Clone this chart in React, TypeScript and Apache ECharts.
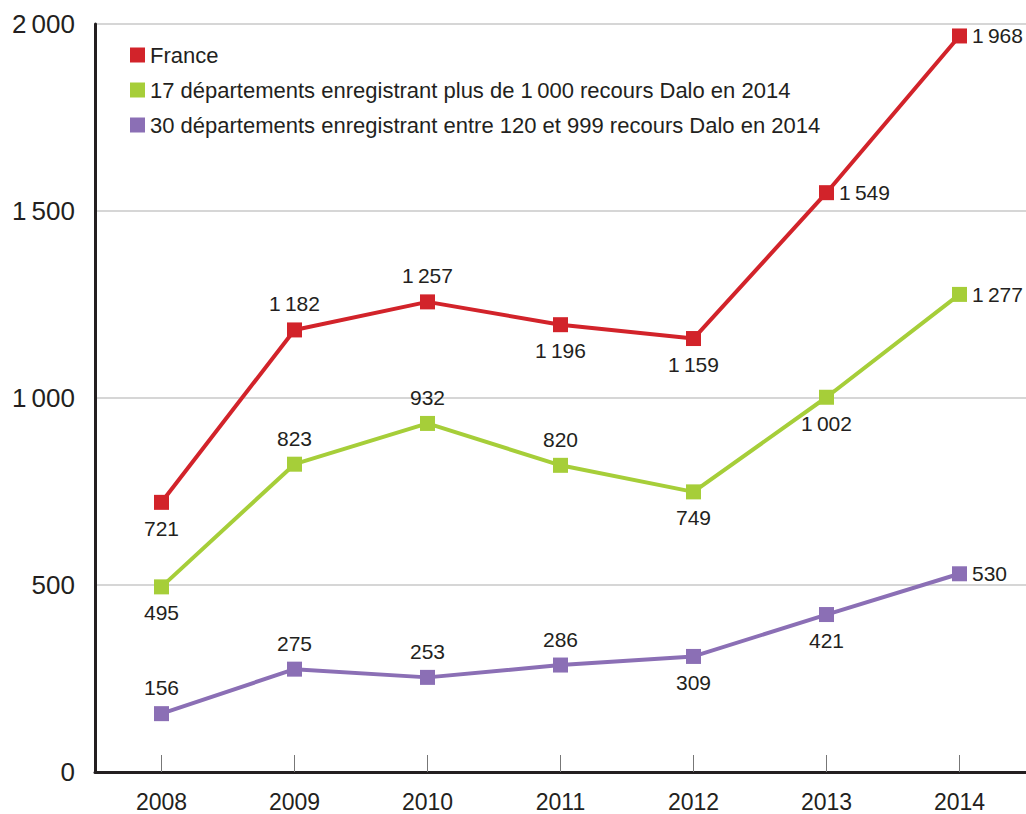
import React, { useEffect, useRef } from "react";
import * as echarts from "echarts";

const years = ["2008", "2009", "2010", "2011", "2012", "2013", "2014"];
const franceValues = [721, 1182, 1257, 1196, 1159, 1549, 1968];
const dept17Values = [495, 823, 932, 820, 749, 1002, 1277];
const dept30Values = [156, 275, 253, 286, 309, 421, 530];
const seriesNames = [
  "France",
  "17 départements enregistrant plus de 1\u2009000 recours Dalo en 2014",
  "30 départements enregistrant entre 120 et 999 recours Dalo en 2014",
];
const franceLabelPos = ["bottom", "top", "top", "bottom", "bottom", "right", "right"];
const dept17LabelPos = ["bottom", "top", "top", "top", "bottom", "bottom", "right"];
const dept30LabelPos = ["top", "top", "top", "top", "bottom", "bottom", "right"];

const colors = ["#d2232a", "#a6ce39", "#8b6fb5"];
const textColor = "#231f20";
const fontFamily = "'Liberation Sans', Arial, Helvetica, sans-serif";

const fmt = (v: number) => {
  const s = String(Math.round(v));
  if (s.length > 3) return s.slice(0, s.length - 3) + "\u2009" + s.slice(s.length - 3);
  return s;
};

function buildSeries(name: string, values: number[], positions: string[], color: string) {
  return {
    name,
    type: "line",
    data: values.map((v, i) => ({
      value: v,
      label: {
        position: positions[i],
        distance: positions[i] === "right" ? 5 : 8,
      },
    })),
    symbol: "rect",
    symbolSize: 15,
    lineStyle: { color, width: 4 },
    itemStyle: { color },
    label: {
      show: true,
      color: textColor,
      fontSize: 21,
      fontFamily,
      formatter: (p: any) => fmt(p.value),
    },
  };
}

export default function App() {
  const ref = useRef<HTMLDivElement>(null);
  useEffect(() => {
    if (!ref.current) return;
    const chart = echarts.init(ref.current, undefined, { renderer: "svg" });
    chart.setOption({
      animation: false,
      backgroundColor: "#ffffff",
      textStyle: { fontFamily, color: textColor },
      grid: { left: 95, right: 0, top: 24, bottom: 42, containLabel: false },
      legend: {
        orient: "vertical",
        left: 125,
        top: 39,
        icon: "rect",
        itemWidth: 15,
        itemHeight: 15,
        itemGap: 13,
        textStyle: { fontSize: 22, color: textColor, fontFamily, lineHeight: 22 },
        data: seriesNames,
      },
      xAxis: {
        type: "category",
        data: years,
        boundaryGap: true,
        axisLine: { lineStyle: { color: textColor, width: 3 } },
        axisTick: {
          show: true,
          alignWithLabel: true,
          inside: true,
          length: 17,
          lineStyle: { color: "#777", width: 1 },
        },
        axisLabel: { color: textColor, fontSize: 23, fontFamily, margin: 18 },
        splitLine: { show: false },
      },
      yAxis: {
        type: "value",
        min: 0,
        max: 2000,
        interval: 500,
        axisLine: { show: true, lineStyle: { color: textColor, width: 3 } },
        axisTick: { show: false },
        axisLabel: {
          color: textColor,
          fontSize: 26,
          fontFamily,
          margin: 20,
          formatter: (v: number) => fmt(v),
        },
        splitLine: { show: true, lineStyle: { color: "#c8c8c8", width: 1.5 } },
      },
      series: [
        buildSeries(seriesNames[0], franceValues, franceLabelPos, colors[0]),
        buildSeries(seriesNames[1], dept17Values, dept17LabelPos, colors[1]),
        buildSeries(seriesNames[2], dept30Values, dept30LabelPos, colors[2]),
      ],
    });
    return () => chart.dispose();
  }, []);
  return (
    <div
      ref={ref}
      style={{ position: "fixed", left: 0, top: 0, width: 1026, height: 814, background: "#fff" }}
    />
  );
}
